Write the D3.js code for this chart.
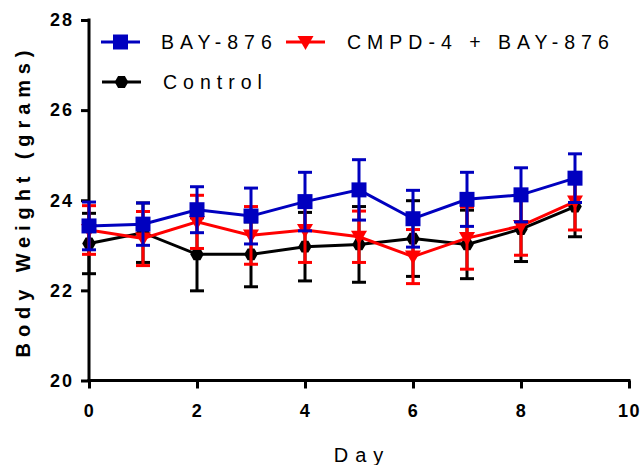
<!DOCTYPE html>
<html><head><meta charset="utf-8">
<script src="https://cdn.jsdelivr.net/npm/d3@7/dist/d3.min.js"></script>
<style>
html,body{margin:0;padding:0;background:#fff;}
svg{display:block;}
text{font-family:"Liberation Sans",Arial,sans-serif;}
</style></head>
<body>
<svg id="c" width="640" height="465"></svg>
<script>
const days = [0,1,2,3,4,5,6,7,8,9];
const seriesNames = ["BAY-876", "CMPD-4 + BAY-876", "Control"];
const bayMean = [23.43, 23.47, 23.79, 23.65, 23.97, 24.23, 23.59, 24.02, 24.12, 24.49];
const bayErr  = [0.53, 0.47, 0.51, 0.62, 0.65, 0.67, 0.63, 0.60, 0.60, 0.54];
const cmpdMean = [23.34, 23.15, 23.52, 23.22, 23.34, 23.19, 22.75, 23.16, 23.43, 23.97];
const cmpdErr  = [0.54, 0.60, 0.59, 0.64, 0.72, 0.57, 0.60, 0.69, 0.65, 0.63];
const ctrlMean = [23.04, 23.28, 22.80, 22.80, 22.97, 23.02, 23.15, 23.02, 23.36, 23.86];
const ctrlErr  = [0.67, 0.66, 0.81, 0.72, 0.76, 0.84, 0.84, 0.76, 0.72, 0.67];
const xTicks = [0,2,4,6,8,10];
const yTicks = [20,22,24,26,28];

const svg = d3.select("#c");
const x = d3.scaleLinear().domain([0,10]).range([89,629]);
const y = d3.scaleLinear().domain([20,28]).range([380.5,20]);

// axes
const xAxis = svg.append("g").attr("transform","translate(0,380.5)")
  .call(d3.axisBottom(x).tickValues(xTicks).tickSize(8).tickSizeOuter(0).tickPadding(16));
const yAxis = svg.append("g").attr("transform","translate(89,0)")
  .call(d3.axisLeft(y).tickValues(yTicks).tickSize(8).tickSizeOuter(0).tickPadding(7));
[xAxis,yAxis].forEach(a=>{
  a.select(".domain").attr("stroke","#000").attr("stroke-width",3);
  a.selectAll(".tick line").attr("stroke","#000").attr("stroke-width",3);
  a.selectAll(".tick text").attr("fill","#000").style("font-size","18px").style("font-weight","bold")
   .style("font-family","'Liberation Sans',Arial,sans-serif");
});
yAxis.selectAll(".tick text").style("letter-spacing","2px");
xAxis.selectAll(".tick text").style("letter-spacing","1.5px");
xAxis.selectAll(".domain").attr("d", `M${x(0)-1.5},0H${x(10)+1.5}`);
yAxis.selectAll(".domain").attr("d", `M0,${y(20)+1.5}V${y(28)-1.5}`);

// axis titles
svg.append("text").attr("x",362).attr("y",462).attr("text-anchor","middle")
  .style("font-size","20px").style("letter-spacing","7px").text("Day");
svg.append("text").attr("transform","translate(30,201) rotate(-90)").attr("text-anchor","middle")
  .style("font-size","20px").style("font-weight","bold").style("letter-spacing","5.9px").text("Body Weight (grams)");

const sq = d3.symbol().type(d3.symbolSquare).size(225);
const tri = "M-8,-6 L8,-6 L0,8 Z";
const hex = (()=>{let p=[];for(let i=0;i<6;i++){const a=Math.PI/3*i;p.push([6.8*Math.cos(a),6.8*Math.sin(a)]);}return "M"+p.map(d=>d.join(",")).join("L")+"Z";})();

const series = [
  {name:seriesNames[2], mean:ctrlMean, err:ctrlErr, color:"#000000", shape:hex},
  {name:seriesNames[1], mean:cmpdMean, err:cmpdErr, color:"#ff0000", shape:tri},
  {name:seriesNames[0], mean:bayMean, err:bayErr, color:"#0000bf", shape:sq()}
];

series.forEach(s=>{
  const g = svg.append("g");
  const pts = days.map((d,i)=>({d, m:s.mean[i], e:s.err[i]}));
  pts.forEach(p=>{
    g.append("line").attr("x1",x(p.d)).attr("x2",x(p.d)).attr("y1",y(p.m+p.e)).attr("y2",y(p.m-p.e))
      .attr("stroke",s.color).attr("stroke-width",3);
    [p.m+p.e, p.m-p.e].forEach(v=>{
      g.append("line").attr("x1",x(p.d)-7).attr("x2",x(p.d)+7).attr("y1",y(v)).attr("y2",y(v))
        .attr("stroke",s.color).attr("stroke-width",3);
    });
  });
  g.append("path").datum(pts)
    .attr("d", d3.line().x(p=>x(p.d)).y(p=>y(p.m)))
    .attr("fill","none").attr("stroke",s.color).attr("stroke-width",3);
  g.selectAll(".m").data(pts).enter().append("path")
    .attr("transform",p=>`translate(${x(p.d)},${y(p.m)})`)
    .attr("d",s.shape).attr("fill",s.color);
});

// legend
const legend = [
  {s:series[2], lx:101, ly:42, tx:161},
  {s:series[1], lx:286, ly:42, tx:347},
  {s:series[0], lx:102, ly:82, tx:163}
];
legend.forEach(l=>{
  const g = svg.append("g");
  g.append("line").attr("x1",l.lx).attr("x2",l.lx+39).attr("y1",l.ly).attr("y2",l.ly)
    .attr("stroke",l.s.color).attr("stroke-width",3);
  g.append("path").attr("transform",`translate(${l.lx+19.5},${l.ly})`).attr("d",l.s.shape).attr("fill",l.s.color);
  g.append("text").attr("x",l.tx).attr("y",l.ly+7).style("font-size","19.5px").style("letter-spacing","6px")
    .text(l.s.name);
});
</script>
</body></html>
